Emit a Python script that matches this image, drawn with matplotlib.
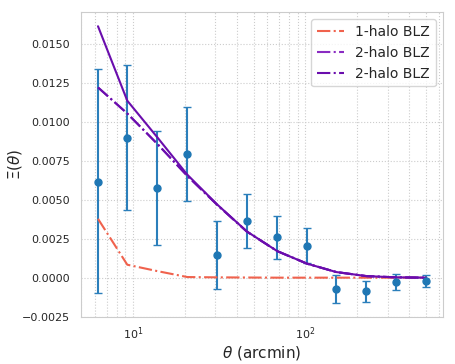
import matplotlib
matplotlib.use("Agg")
import matplotlib.pyplot as plt
import seaborn as sns
import numpy as np

sns.set_style("whitegrid")

# angular bins (arcmin)
theta = [6.24, 9.23, 13.8, 20.6, 30.7, 45.7, 68.6, 102, 151, 226, 337, 503]

# measured signal and error bar limits
xi = [0.00616, 0.00897, 0.00575, 0.00795, 0.00145, 0.00362, 0.00260, 0.00205,
      -0.00073, -0.00088, -0.00028, -0.00022]
xi_hi = [0.01336, 0.01362, 0.00937, 0.01091, 0.00362, 0.00535, 0.00398, 0.00317,
         0.00017, -0.00022, 0.00023, 0.00015]
xi_lo = [-0.00100, 0.00435, 0.00211, 0.00494, -0.00075, 0.00189, 0.00119, 0.00091,
         -0.00164, -0.00154, -0.00079, -0.00058]

# model curves
one_halo = [0.00377, 0.00083, 0.00042, 0.00004, 0.00002, 0.00001, 0.0, 0.0, 0.0, 0.0, 0.0, 0.0]
two_halo = [0.01219, 0.01052, 0.00857, 0.00652, 0.00467, 0.00295, 0.00170, 0.00090,
            0.00036, 0.00010, 0.00002, 0.0]
total = [0.01611, 0.01134, 0.00899, 0.00660, 0.00469, 0.00296, 0.00170, 0.00090,
         0.00036, 0.00010, 0.00002, 0.0]

fig = plt.figure(figsize=(4.55, 3.64), dpi=100)
ax = fig.add_axes([0.179, 0.130, 0.794, 0.836])

xi_arr = np.array(xi)
yerr = [xi_arr - np.array(xi_lo), np.array(xi_hi) - xi_arr]
ax.errorbar(theta, xi, yerr=yerr, fmt='o', color='#1f77b4', ms=5, capsize=3,
            elinewidth=1.5, ecolor='#2b7fbb')

ax.plot(theta, one_halo, '-.', color='#f0624d', lw=1.5, label='1-halo BLZ')
ax.plot(theta, two_halo, '-.', color='#8a2bc2', lw=1.5, label='2-halo BLZ')
ax.plot(theta, two_halo, '-.', color='#6a0dad', lw=1.5, label='2-halo BLZ')
ax.plot(theta, total, '-', color='#6a0dad', lw=1.5)

ax.set_xscale('log')
ax.set_xlim(5.0, 627)
ax.set_ylim(-0.0025, 0.0170)
ax.set_yticks([-0.0025, 0.0, 0.0025, 0.005, 0.0075, 0.01, 0.0125, 0.015])
ax.grid(True, which='both', ls=':', color='#cccccc', lw=0.8)
ax.tick_params(axis='x', labelsize=8, pad=3)
ax.tick_params(axis='y', labelsize=8, pad=5)
ax.set_xlabel(r'$\theta$ (arcmin)', fontsize=11, labelpad=1)
ax.set_ylabel(r'$\Xi(\theta)$', fontsize=11)
ax.yaxis.set_label_coords(-0.158, 0.5)
ax.legend(loc='upper right', fontsize=10)

fig.savefig('out.png', dpi=100)
